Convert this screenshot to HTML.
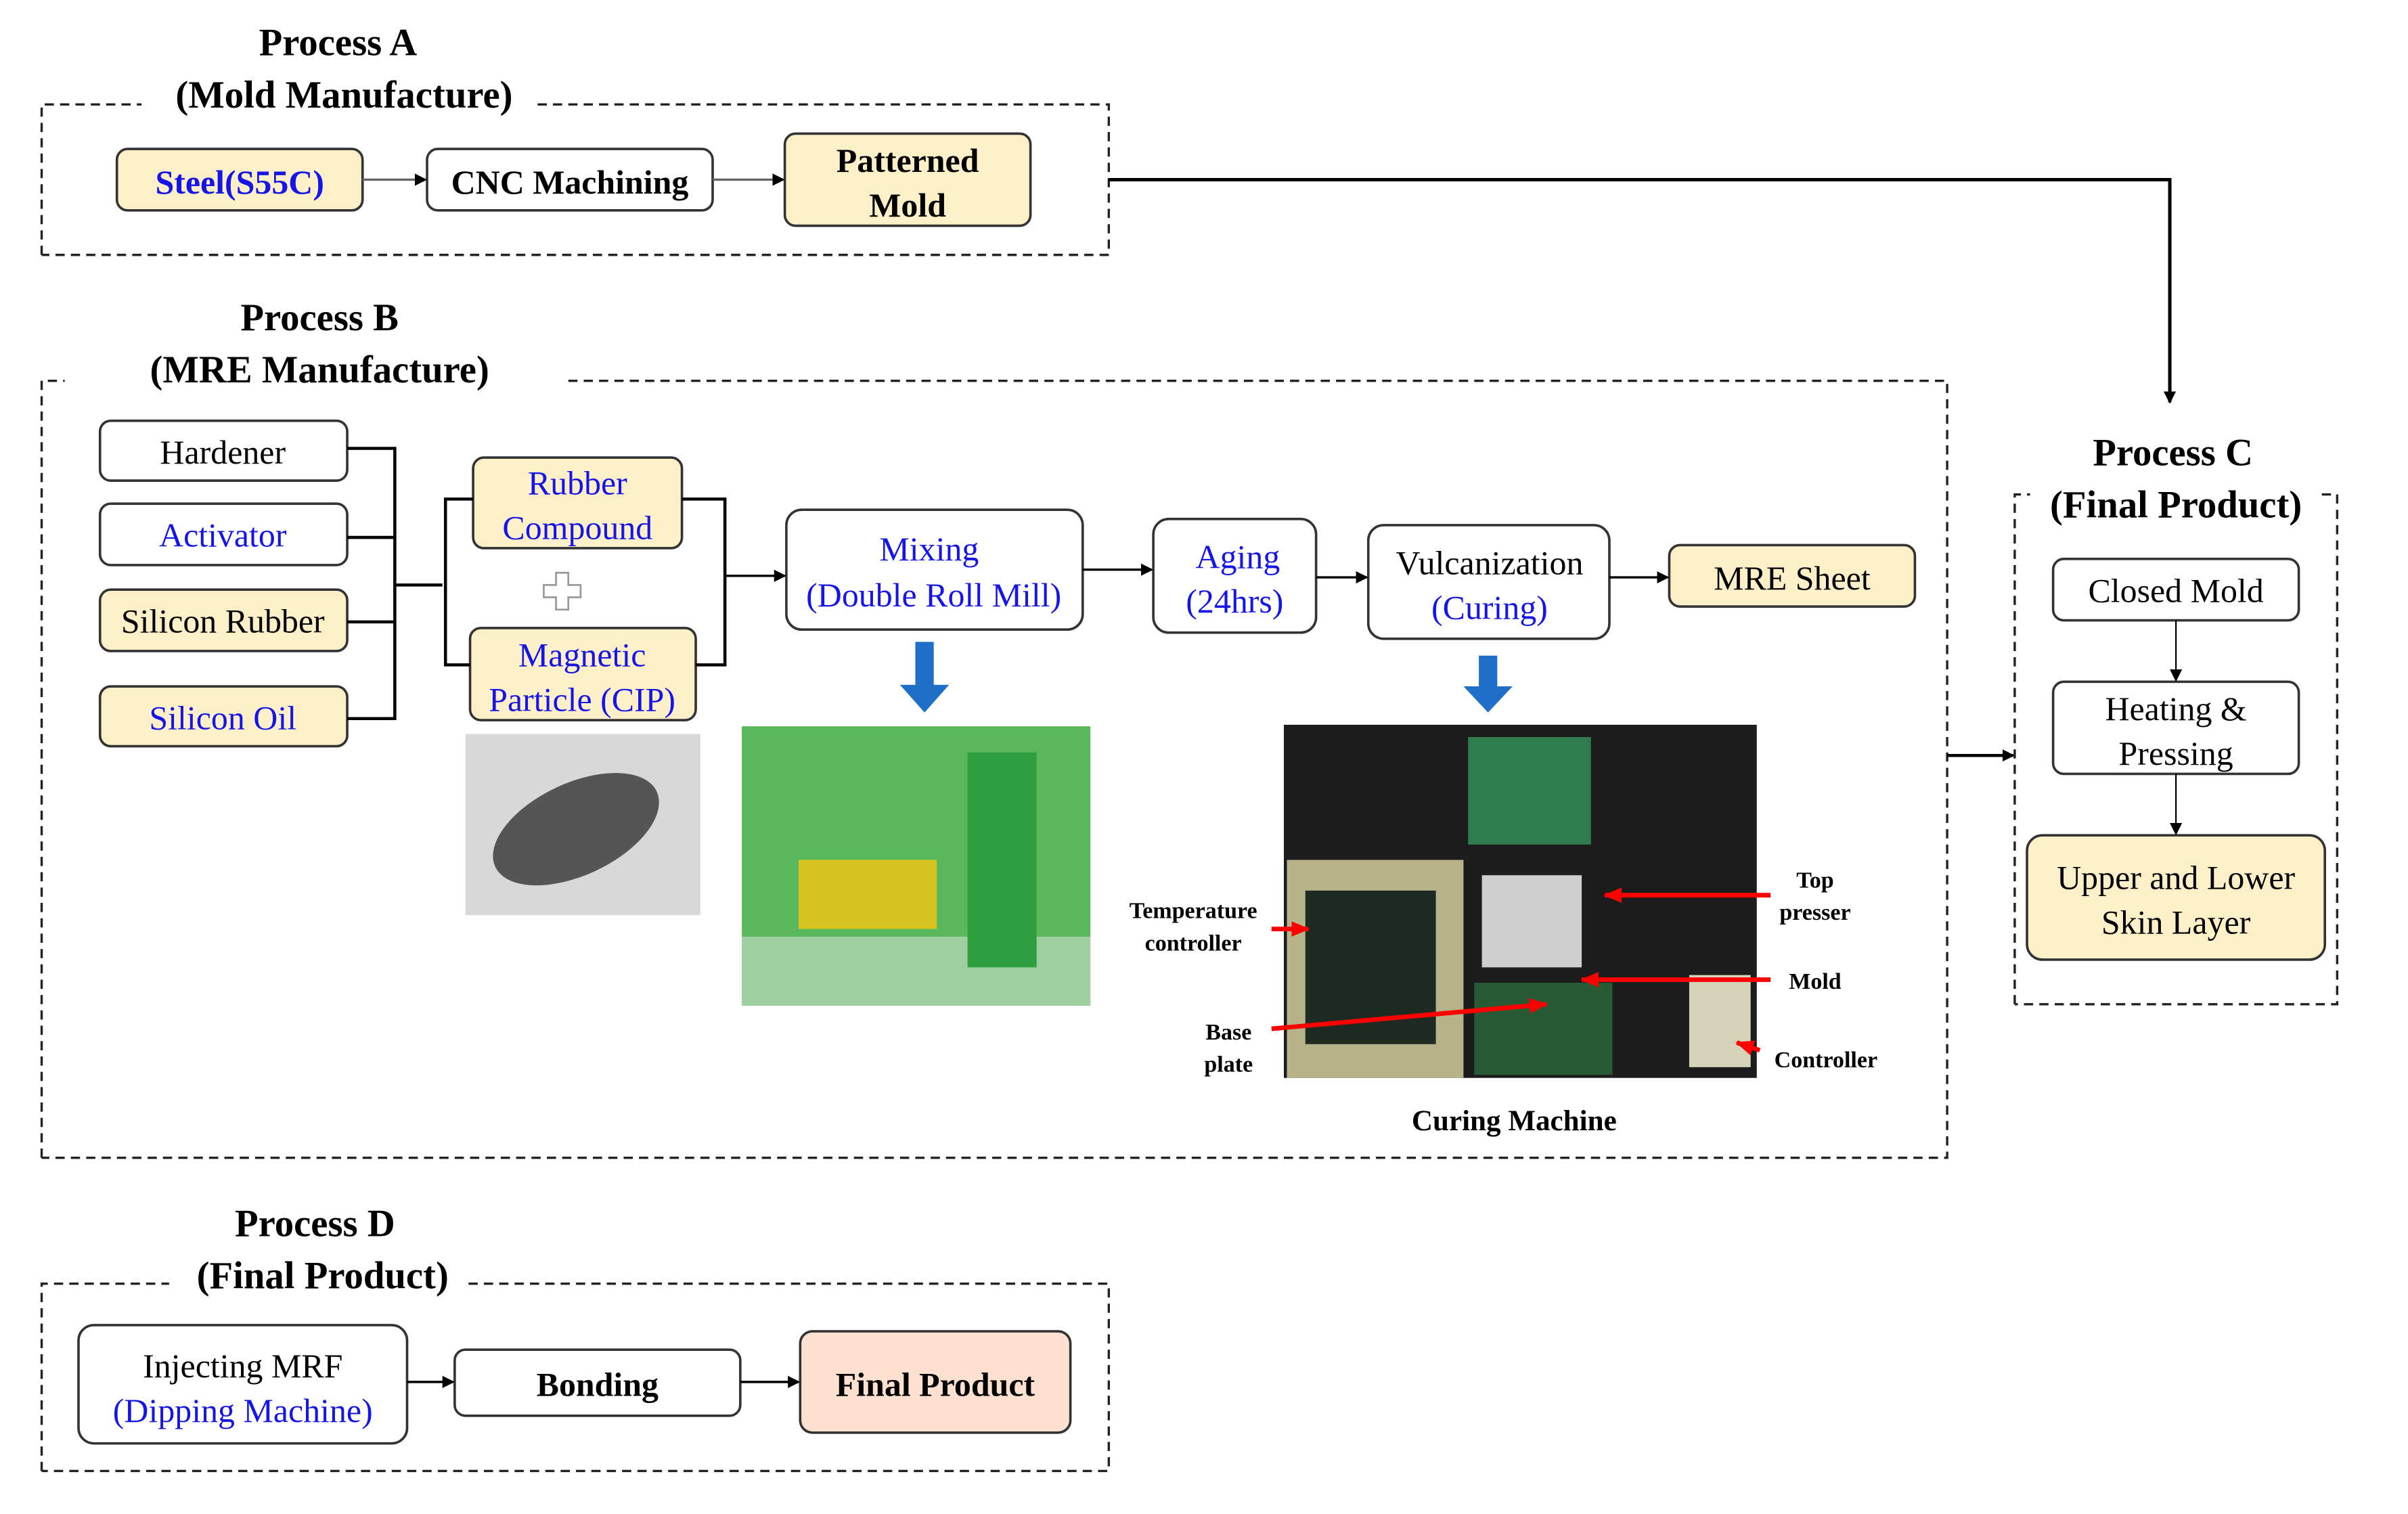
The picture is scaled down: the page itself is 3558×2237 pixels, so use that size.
<!DOCTYPE html>
<html><head><meta charset="utf-8"><style>
html,body{margin:0;padding:0;background:#fff;}
svg{display:block;}
text{font-family:"Liberation Serif",serif;}
</style></head><body>
<svg width="3558" height="2237" viewBox="0 0 1568 986" xmlns="http://www.w3.org/2000/svg">
<defs>
<marker id="ah" markerWidth="8" markerHeight="8" refX="7" refY="4" orient="auto" markerUnits="userSpaceOnUse"><path d="M0,0 L8,4 L0,8 z" fill="#000"/></marker>
<marker id="rh" markerWidth="12" markerHeight="10" refX="11" refY="5" orient="auto" markerUnits="userSpaceOnUse"><path d="M0,0 L12,5 L0,10 z" fill="#f00"/></marker>
</defs>
<rect width="1568" height="986" fill="#fff"/>
<g fill="none" stroke="#222" stroke-width="1.5" stroke-dasharray="6,4">
<path d="M27,166 V68 H92 M350,68 H722 V166 H27"/>
<path d="M27,754 V248 H42 M370,248 H1268 V754 H27"/>
<path d="M1312,654 V322 H1322 M1512,322 H1522 V654 H1312"/>
<path d="M27,958 V836 H110 M305,836 H722 V958 H27"/>
</g>
<g font-weight="bold" font-size="25" text-anchor="middle" fill="#000">
<text x="220" y="36">Process A</text>
<text x="224" y="70">(Mold Manufacture)</text>
<text x="208" y="215">Process B</text>
<text x="208" y="249">(MRE Manufacture)</text>
<text x="1415" y="303">Process C</text>
<text x="1417" y="337">(Final Product)</text>
<text x="205" y="805">Process D</text>
<text x="210" y="839">(Final Product)</text>
</g>
<g stroke="#333" stroke-width="1.6">
<rect x="76" y="97" width="160" height="40" rx="7" fill="#fdefc8"/>
<rect x="278" y="97" width="186" height="40" rx="7" fill="#fff"/>
<rect x="511" y="87" width="160" height="60" rx="7" fill="#fdefc8"/>
<rect x="65" y="274" width="161" height="39" rx="7" fill="#fff"/>
<rect x="65" y="328" width="161" height="40" rx="7" fill="#fff"/>
<rect x="65" y="384" width="161" height="40" rx="7" fill="#fdefc8"/>
<rect x="65" y="447" width="161" height="39" rx="7" fill="#fdefc8"/>
<rect x="308" y="298" width="136" height="59" rx="7" fill="#fdefc8"/>
<rect x="306" y="409" width="147" height="60" rx="7" fill="#fdefc8"/>
<rect x="512" y="332" width="193" height="78" rx="10" fill="#fff"/>
<rect x="751" y="338" width="106" height="74" rx="10" fill="#fff"/>
<rect x="891" y="342" width="157" height="74" rx="10" fill="#fff"/>
<rect x="1087" y="355" width="160" height="40" rx="7" fill="#fdefc8"/>
<rect x="1337" y="364" width="160" height="40" rx="7" fill="#fff"/>
<rect x="1337" y="444" width="160" height="60" rx="7" fill="#fff"/>
<rect x="1320" y="544" width="194" height="81" rx="10" fill="#fdefc8"/>
<rect x="51" y="863" width="214" height="77" rx="10" fill="#fff"/>
<rect x="296" y="879" width="186" height="43" rx="7" fill="#fff"/>
<rect x="521" y="867" width="176" height="66" rx="8" fill="#fde0cf"/>
</g>
<g stroke="#000" stroke-width="1.5" fill="none">
<line x1="236" y1="117" x2="277" y2="117" marker-end="url(#ah)" stroke="#666"/>
<line x1="464" y1="117" x2="510" y2="117" marker-end="url(#ah)" stroke="#666"/>
<path d="M722,117 H1413 V262" stroke-width="2.2" marker-end="url(#ah)"/>
<path d="M226,292 H257 V468 H226 M226,350 H257 M226,405 H257 M257,381 H288" stroke-width="2"/>
<path d="M308,325 H290 V433 H306 M444,325 H472 V433 H453" stroke-width="2"/>
<line x1="472" y1="375" x2="511" y2="375" marker-end="url(#ah)"/>
<line x1="705" y1="371" x2="750" y2="371" marker-end="url(#ah)"/>
<line x1="857" y1="376" x2="890" y2="376" marker-end="url(#ah)"/>
<line x1="1048" y1="376" x2="1086" y2="376" marker-end="url(#ah)"/>
<line x1="1268" y1="492" x2="1311" y2="492" stroke-width="2" marker-end="url(#ah)"/>
<line x1="1417" y1="404" x2="1417" y2="443" stroke-width="1" marker-end="url(#ah)"/>
<line x1="1417" y1="504" x2="1417" y2="543" stroke-width="1" marker-end="url(#ah)"/>
<line x1="265" y1="900" x2="295" y2="900" marker-end="url(#ah)"/>
<line x1="482" y1="900" x2="520" y2="900" marker-end="url(#ah)"/>
</g>
<path d="M362,373 h8 v8 h8 v8 h-8 v8 h-8 v-8 h-8 v-8 h8 z" fill="#fff" stroke="#999" stroke-width="1.2"/>
<path d="M596,418 h12 v28 h10 l-16,18 l-16,-18 h10 z" fill="#1f6fc9"/>
<path d="M963,427 h12 v20 h10 l-16,17 l-16,-17 h10 z" fill="#1f6fc9"/>
<rect x="303" y="478" width="153" height="118" fill="#d8d8d8"/>
<ellipse cx="375" cy="540" rx="58" ry="30" fill="#555" transform="rotate(-25 375 540)"/>
<rect x="483" y="473" width="227" height="182" fill="#5ab85c"/>
<rect x="483" y="610" width="227" height="45" fill="#9fcfa0"/>
<rect x="630" y="490" width="45" height="140" fill="#2e9e3e"/>
<rect x="520" y="560" width="90" height="45" fill="#d8c420"/>
<rect x="836" y="472" width="308" height="230" fill="#1c1c1c"/>
<rect x="838" y="560" width="115" height="142" fill="#b7b48a"/>
<rect x="850" y="580" width="85" height="100" fill="#1f2a22"/>
<rect x="956" y="480" width="80" height="70" fill="#2f7d4e"/>
<rect x="965" y="570" width="65" height="60" fill="#cfcfcf"/>
<rect x="960" y="640" width="90" height="60" fill="#285a35"/>
<rect x="1100" y="635" width="40" height="60" fill="#d6d2b8"/>
<g stroke="#f00" stroke-width="3" fill="none">
<line x1="828" y1="605" x2="852" y2="605" marker-end="url(#rh)"/>
<line x1="1153" y1="583" x2="1045" y2="583" marker-end="url(#rh)"/>
<line x1="1153" y1="638" x2="1030" y2="638" marker-end="url(#rh)"/>
<line x1="828" y1="670" x2="1007" y2="654" marker-end="url(#rh)"/>
<line x1="1146" y1="684" x2="1131" y2="679" marker-end="url(#rh)"/>
</g>
<g font-weight="bold" font-size="15" text-anchor="middle" fill="#000">
<text x="777" y="598">Temperature</text><text x="777" y="619">controller</text>
<text x="1182" y="578">Top</text><text x="1182" y="599">presser</text>
<text x="1182" y="644">Mold</text>
<text x="800" y="677">Base</text><text x="800" y="698">plate</text>
<text x="1189" y="695">Controller</text>
<text x="986" y="736" font-size="19">Curing Machine</text>
</g>
<g font-size="22" text-anchor="middle" fill="#000">
<text x="156" y="126" fill="#1515e8" font-weight="bold">Steel(S55C)</text>
<text x="371" y="126" font-weight="bold">CNC Machining</text>
<text x="591" y="112" font-weight="bold">Patterned</text><text x="591" y="141" font-weight="bold">Mold</text>
<text x="145" y="302">Hardener</text>
<text x="145" y="356" fill="#1515e8">Activator</text>
<text x="145" y="412">Silicon Rubber</text>
<text x="145" y="475" fill="#1515e8">Silicon Oil</text>
<text x="376" y="322" fill="#1515e8">Rubber</text><text x="376" y="351" fill="#1515e8">Compound</text>
<text x="379" y="434" fill="#1515e8">Magnetic</text><text x="379" y="463" fill="#1515e8">Particle (CIP)</text>
<text x="605" y="365" fill="#1515e8">Mixing</text><text x="608" y="395" fill="#1515e8">(Double Roll Mill)</text>
<text x="806" y="370" fill="#1515e8">Aging</text><text x="804" y="399" fill="#1515e8">(24hrs)</text>
<text x="970" y="374">Vulcanization</text><text x="970" y="403" fill="#1515e8">(Curing)</text>
<text x="1167" y="384">MRE Sheet</text>
<text x="1417" y="392">Closed Mold</text>
<text x="1417" y="469">Heating &amp;</text><text x="1417" y="498">Pressing</text>
<text x="1417" y="579">Upper and Lower</text><text x="1417" y="608">Skin Layer</text>
<text x="158" y="897">Injecting MRF</text><text x="158" y="926" fill="#1515e8">(Dipping Machine)</text>
<text x="389" y="909" font-weight="bold">Bonding</text>
<text x="609" y="909" font-weight="bold">Final Product</text>
</g>
</svg>
</body></html>
